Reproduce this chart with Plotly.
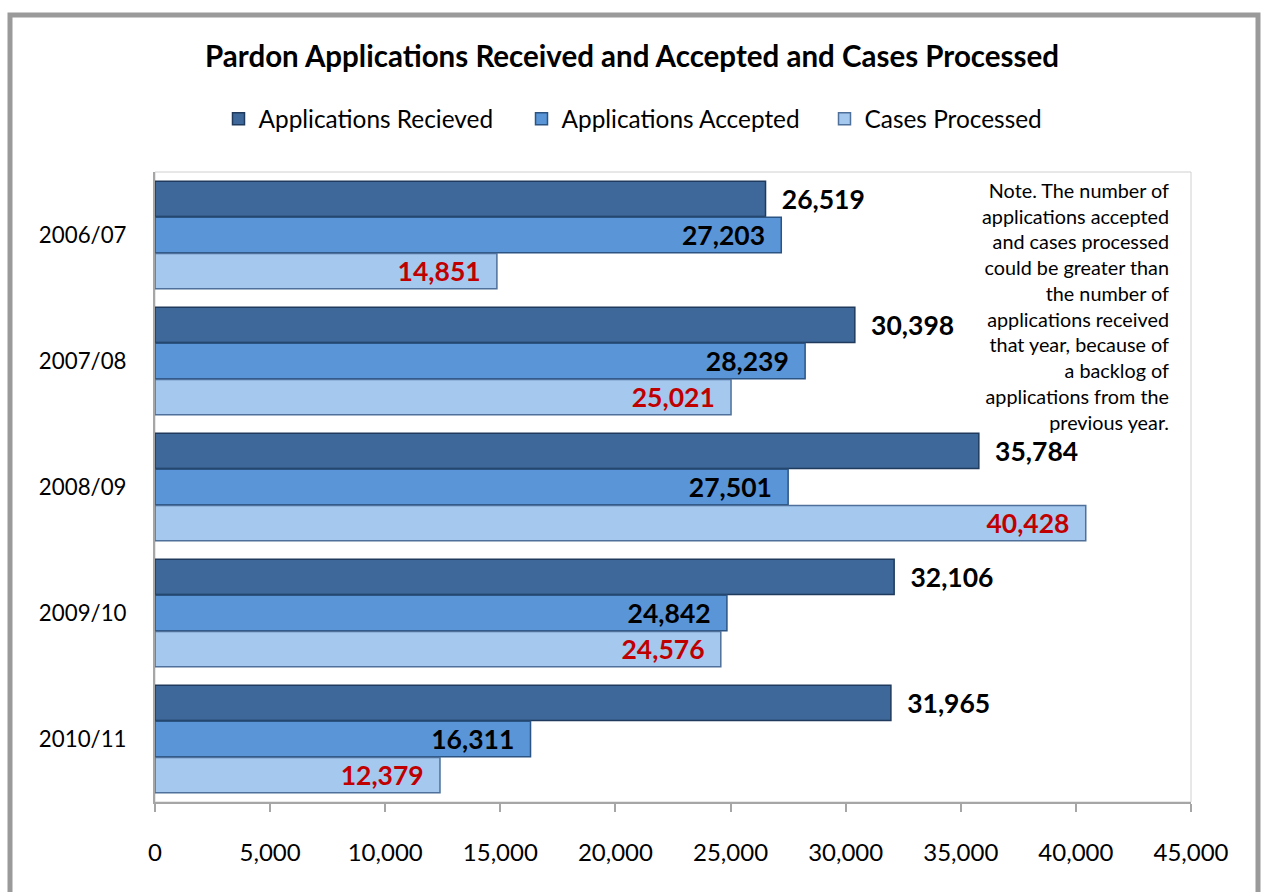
import plotly.graph_objects as go

years = ["2006/07", "2007/08", "2008/09", "2009/10", "2010/11"]
received = [26519, 30398, 35784, 32106, 31965]
accepted = [27203, 28239, 27501, 24842, 16311]
processed = [14851, 25021, 40428, 24576, 12379]
x_ticks = [0, 5000, 10000, 15000, 20000, 25000, 30000, 35000, 40000, 45000]

W, H = 1264, 892
L, R, T, B = 155, 73, 172, 90
pw, ph = W - L - R, H - T - B

FONT = "Lato"
GAP = "\u2002"  # spacing between a label and the bar end

def fmt(v):
    return f"{v:,}"

fig = go.Figure()
fig.add_trace(go.Bar(
    name="Applications Recieved", y=years, x=received, orientation="h",
    marker=dict(color="#3e6899", line=dict(color="#1f3a5c", width=1.5)),
    text=[GAP + fmt(v) for v in received], textposition="outside",
    textfont=dict(family=FONT, size=26.5, color="black", weight="bold"),
    constraintext="none", cliponaxis=False,
))
fig.add_trace(go.Bar(
    name="Applications Accepted", y=years, x=accepted, orientation="h",
    marker=dict(color="#5a95d8", line=dict(color="#2b5483", width=1.5)),
    text=[fmt(v) + GAP for v in accepted], textposition="inside", insidetextanchor="end",
    textfont=dict(family=FONT, size=26.5, color="black", weight="bold"),
    constraintext="none",
))
fig.add_trace(go.Bar(
    name="Cases Processed", y=years, x=processed, orientation="h",
    marker=dict(color="#a5c8ee", line=dict(color="#4e709a", width=1.5)),
    text=[fmt(v) + GAP for v in processed], textposition="inside", insidetextanchor="end",
    textfont=dict(family=FONT, size=26.5, color="#c00000", weight="bold"),
    constraintext="none",
))

note = ("Note. The number of<br>applications accepted<br>and cases processed<br>"
        "could be greater than<br>the number of<br>applications received<br>"
        "that year, because of<br>a backlog of<br>applications from the<br>previous year.")

def px_x(p):
    return (p - L) / pw

def px_y(p):
    return (H - B - p) / ph

fig.update_layout(
    width=W, height=H,
    margin=dict(l=L, r=R, t=T, b=B),
    paper_bgcolor="white", plot_bgcolor="white",
    font=dict(family=FONT, size=22, color="black"),
    title=dict(text="<b>Pardon Applications Received and Accepted and Cases Processed</b>",
               x=0.5, xanchor="center", y=1 - 57 / H, yanchor="middle",
               font=dict(family=FONT, size=29.5, color="black")),
    barmode="group", bargap=0.14, bargroupgap=0.02,
    uniformtext=dict(mode=False),
    legend=dict(orientation="h", x=0.5, xanchor="center", y=px_y(119), yanchor="middle",
                font=dict(family=FONT, size=24.4), traceorder="normal",
                itemwidth=30, entrywidth=258, entrywidthmode="pixels"),
    xaxis=dict(range=[0, 45000], tickvals=x_ticks, ticktext=[fmt(v) for v in x_ticks],
               showgrid=False, zeroline=False, showline=True, linecolor="#a6a6a6", linewidth=2,
               ticks="outside", ticklen=8, tickcolor="#a6a6a6", tickwidth=2,
               ticklabelstandoff=20, tickfont=dict(family=FONT, size=24)),
    yaxis=dict(autorange="reversed", showgrid=False, showline=True, linecolor="#a6a6a6",
               linewidth=2, ticks="", tickfont=dict(family=FONT, size=22.3), ticklabelstandoff=22),
    annotations=[dict(text=note, xref="paper", yref="paper", x=px_x(1171), y=px_y(176),
                      xanchor="right", yanchor="top", align="right", showarrow=False,
                      font=dict(family=FONT, size=19.8, color="black"))],
    shapes=[
        dict(type="rect", xref="paper", yref="paper", x0=px_x(10), x1=px_x(1258),
             y0=px_y(15), y1=px_y(905), line=dict(color="#9a9a9a", width=5), layer="below"),
        dict(type="rect", xref="paper", yref="paper", x0=0, x1=1, y0=0, y1=1,
             line=dict(color="#d0d0d0", width=1), layer="below"),
    ],
)

fig.write_html("out.html")
